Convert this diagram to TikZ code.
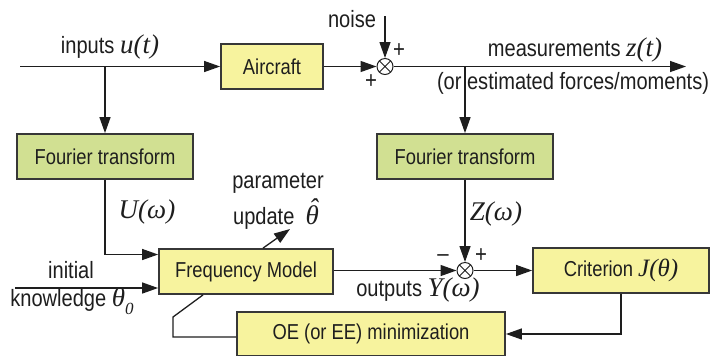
\documentclass[tikz,border=0pt]{standalone}
\usepackage{fontspec}
\setmainfont{Liberation Sans}[FakeStretch=0.85]
\newfontfamily\timesfont{Liberation Serif}
\usepackage{xcolor}
\usetikzlibrary{arrows.meta,positioning}
\definecolor{boxyellow}{RGB}{247,243,158}
\definecolor{boxgreen}{RGB}{209,224,146}
\definecolor{edge}{RGB}{55,55,55}
\definecolor{ink}{RGB}{30,30,30}
\newcommand{\sig}[1]{{\fontsize{13.5}{15}\selectfont\timesfont\itshape #1}}
\begin{document}
\begin{tikzpicture}[
  x=0.5pt, y=-0.5pt, font=\fontsize{10.8}{12}\selectfont, text=ink,
  blk/.style={draw=edge, line width=0.9pt, fill=boxyellow, minimum height=22.5pt, inner sep=0pt},
  ft/.style={blk, fill=boxgreen, minimum width=88pt},
  lbl/.style={font=\fontsize{11.8}{13}\selectfont, inner sep=1pt},
  sum/.style={draw=ink, circle, minimum size=8pt, inner sep=0pt, line width=0.5pt,
    path picture={\draw[line width=0.5pt] (path picture bounding box.north west) -- (path picture bounding box.south east)
      (path picture bounding box.north east) -- (path picture bounding box.south west);}},
  arr/.style={-{Triangle[length=8pt, width=5.5pt]}, line width=0.65pt, draw=ink},
  ln/.style={line width=0.65pt, draw=ink},
  sgn/.style={font=\fontsize{12}{12}\selectfont, inner sep=0pt},
]
\useasboundingbox (0,0) rectangle (715,355);
% blocks
\node[blk, minimum width=51pt] (air) at (272,66.5) {Aircraft};
\node[sum] (s1) at (385,66.5) {};
\node[ft] (ftin) at (105,156.5) {Fourier transform};
\node[ft] (ftout) at (465,156.5) {Fourier transform};
\node[blk, minimum width=87pt] (freq) at (246,271.5) {Frequency Model};
\node[sum] (s2) at (465,270.5) {};
\node[blk, minimum width=88pt] (crit) at (621,270.5) {Criterion {\fontsize{12.5}{14}\selectfont\timesfont\itshape J(θ)}};
\node[blk, minimum width=134pt, minimum height=22pt] (oe) at (371,334) {OE (or EE) minimization};
% free ends
\coordinate (uin) at (20,66.5);
\coordinate (nz) at (385,16);
\coordinate (zout) at (686,66.5);
\coordinate (th0) at (15,288);
\coordinate (upd) at (290,229);
\coordinate (kink) at (173,317);
% labels
\node[lbl] (lin) at (110,47) {inputs \sig{u(t)}};
\node[lbl] (lnoise) at (352,19) {noise};
\node[sgn] at (399,51) {+};
\node[sgn] at (371,82) {+};
\node[lbl] (lmeas) at (575,50) {measurements \sig{z(t)}};
\node[lbl] (lforce) at (573,83) {(or estimated forces/moments)};
\node[lbl] (lU) at (147,212) {\sig{U(ω)}};
\node[lbl] (lpar) at (278,183) {parameter};
\node[lbl] (lupd) at (276,214) {update \ \sig{\rlap{\hspace{0.12em}\raisebox{0.55ex}{ˆ}}θ}};
\node[lbl] (lini) at (71,270) {initial};
\node[lbl] (lkn) at (72,301) {knowledge \sig{θ\raisebox{-0.6ex}{\fontsize{8.5}{9}\selectfont 0}}};
\node[lbl] (lZ) at (496,214) {\sig{Z(ω)}};
\node[sgn] at (443,258) {--};
\node[sgn] at (481,256) {+};
\node[lbl] (lout) at (418,290) {outputs \sig{Y(ω)}};
% connectors
\draw[arr] (uin) -- (air);
\draw[arr] (ftin.north |- air) -- (ftin);
\draw[arr] (air) -- (s1);
\draw[arr] (nz) -- (s1);
\draw[arr] (s1) -- (zout);
\draw[arr] (ftout.north |- s1) -- (ftout);
\draw[arr] (ftin) |- ([yshift=8.5pt]freq.west);
\draw[arr] (th0) -- (freq.west |- th0);
\draw[arr] ([xshift=8.5pt]freq.north) -- (upd);
\draw[arr] (ftout) -- (s2);
\draw[arr] (freq.east |- s2) -- (s2);
\draw[arr] (s2) -- (crit);
\draw[arr] (crit) |- (oe);
\draw[ln] ([yshift=-1.5pt]oe.west) -| (kink) -- ([xshift=-21.5pt]freq.south);
\end{tikzpicture}
\end{document}
